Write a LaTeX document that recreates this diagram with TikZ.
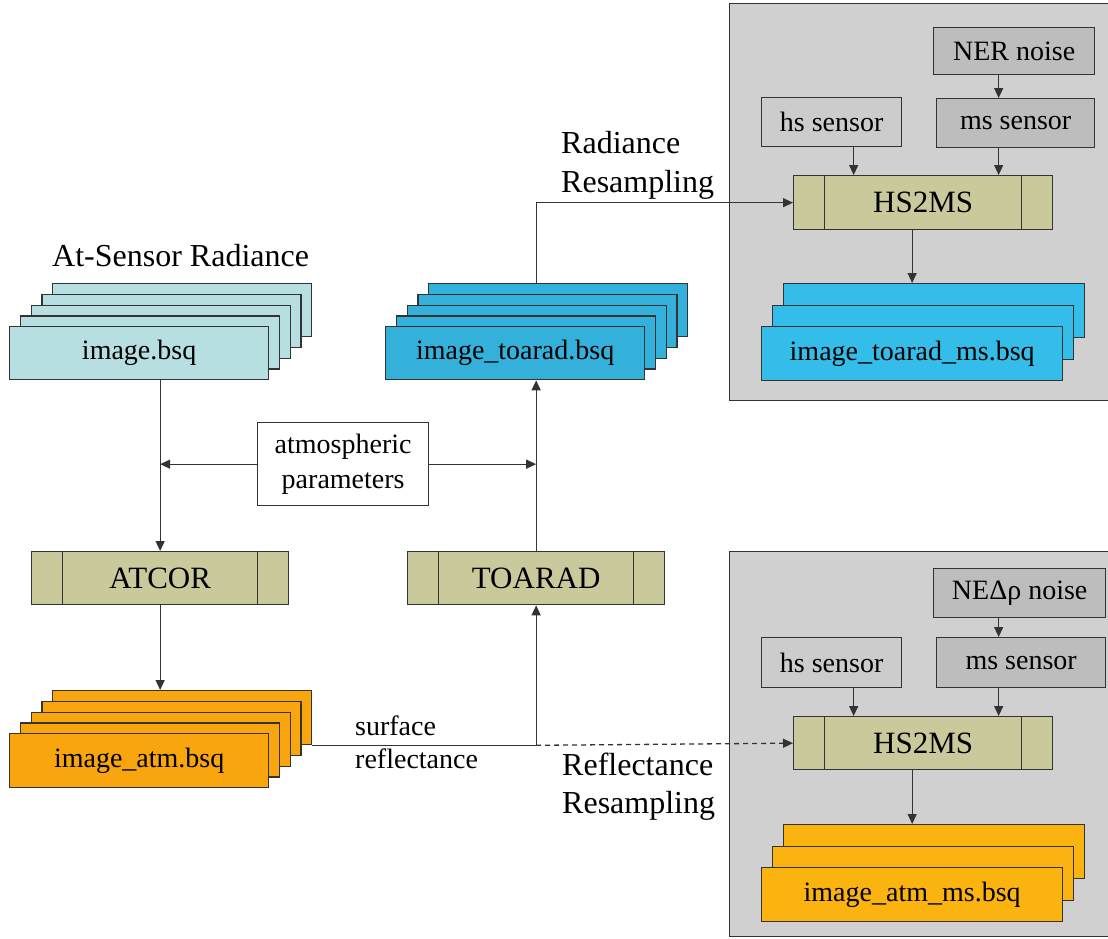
\documentclass[tikz,border=0pt]{standalone}
\usepackage{fontspec}
\setmainfont{Liberation Serif}
\usetikzlibrary{arrows.meta}
\definecolor{edge}{HTML}{333333}
\definecolor{cyanA}{HTML}{B7DFE2}
\definecolor{blueA}{HTML}{33B1DA}
\definecolor{blueB}{HTML}{33BDE8}
\definecolor{orangeA}{HTML}{F8A50E}
\definecolor{orangeB}{HTML}{FBB30F}
\definecolor{procfill}{HTML}{C9C99B}
\definecolor{panelfill}{HTML}{D0D0D0}
\definecolor{lightbox}{HTML}{CCCCCC}
\definecolor{darkbox}{HTML}{BDBDBD}
\tikzset{
  lay/.style={draw=edge, line width=1.3pt, anchor=north west, inner sep=0pt, font=\fontsize{28}{34}\selectfont},
  proc/.style={lay, fill=procfill, font=\fontsize{31}{36}\selectfont,
    path picture={
      \draw[edge, line width=1.3pt] ([xshift=31pt]path picture bounding box.north west) -- ([xshift=31pt]path picture bounding box.south west);
      \draw[edge, line width=1.3pt] ([xshift=-31pt]path picture bounding box.north east) -- ([xshift=-31pt]path picture bounding box.south east);
    }},
  panel/.style={draw=edge, line width=1.3pt, fill=panelfill, anchor=north west, inner sep=0pt},
  lab/.style={anchor=base west, inner sep=0pt, font=\fontsize{32}{38}\selectfont},
  labs/.style={anchor=base west, inner sep=0pt, font=\fontsize{28}{34}\selectfont},
  arr/.style={draw=edge, line width=1.3pt, -{Triangle[length=10pt,width=9pt]}},
  conn/.style={draw=edge, line width=1.3pt}
}
\begin{document}
\begin{tikzpicture}[x=1pt,y=-1pt]
\clip (0,0) rectangle (1108,938);
\fill[white] (0,0) rectangle (1108,938);

% panels
\node[panel, minimum width=400pt, minimum height=397pt] (pTop) at (729,3) {};
\node[panel, minimum width=400pt, minimum height=385pt] (pBot) at (729,551) {};

% left radiance stack
\node[lay, fill=cyanA, minimum width=259pt, minimum height=53pt] (img4) at (52,283) {};
\node[lay, fill=cyanA, minimum width=259pt, minimum height=53pt] (img3) at (41.25,293.75) {};
\node[lay, fill=cyanA, minimum width=259pt, minimum height=53pt] (img2) at (30.5,304.5) {};
\node[lay, fill=cyanA, minimum width=259pt, minimum height=53pt] (img1) at (19.75,315.25) {};
\node[lay, fill=cyanA, minimum width=259pt, minimum height=53pt] (img0) at (9,326) {image.bsq};
\node[lab] (hdr) at (52,266) {At-Sensor Radiance};

% toarad stack
\node[lay, fill=blueA, minimum width=259pt, minimum height=53pt] (toar4) at (428,283) {};
\node[lay, fill=blueA, minimum width=259pt, minimum height=53pt] (toar3) at (417.25,293.75) {};
\node[lay, fill=blueA, minimum width=259pt, minimum height=53pt] (toar2) at (406.5,304.5) {};
\node[lay, fill=blueA, minimum width=259pt, minimum height=53pt] (toar1) at (395.75,315.25) {};
\node[lay, fill=blueA, minimum width=259pt, minimum height=53pt] (toar0) at (385,326) {image\_toarad.bsq};

% atm stack
\node[lay, fill=orangeA, minimum width=259pt, minimum height=54pt] (atm4) at (52,690) {};
\node[lay, fill=orangeA, minimum width=259pt, minimum height=54pt] (atm3) at (41.25,700.75) {};
\node[lay, fill=orangeA, minimum width=259pt, minimum height=54pt] (atm2) at (30.5,711.5) {};
\node[lay, fill=orangeA, minimum width=259pt, minimum height=54pt] (atm1) at (19.75,722.25) {};
\node[lay, fill=orangeA, minimum width=259pt, minimum height=54pt] (atm0) at (9,733) {image\_atm.bsq};

% process boxes
\node[proc, minimum width=257pt, minimum height=53pt] (atcor) at (31,551) {ATCOR};
\node[proc, minimum width=257pt, minimum height=53pt] (toarad) at (407,551) {TOARAD};
\node[proc, minimum width=259pt, minimum height=54pt] (hsA) at (793,175) {HS2MS};
\node[proc, minimum width=259pt, minimum height=53pt] (hsB) at (793,716) {HS2MS};

% atmospheric parameters
\node[lay, fill=white, minimum width=171pt, minimum height=83pt, align=center, font=\fontsize{28}{35}\selectfont] (atmp) at (257,422) {atmospheric\\parameters};

% top panel boxes
\node[lay, fill=darkbox, minimum width=161pt, minimum height=47pt] (ner) at (933,27) {NER noise};
\node[lay, fill=lightbox, minimum width=140pt, minimum height=49pt] (hssA) at (761,97) {hs sensor};
\node[lay, fill=darkbox, minimum width=158pt, minimum height=49pt] (mssA) at (936,98) {ms sensor};
\node[lay, fill=blueB, minimum width=301pt, minimum height=54pt] (msA2) at (782.5,283) {};
\node[lay, fill=blueB, minimum width=301pt, minimum height=54pt] (msA1) at (771.75,304.5) {};
\node[lay, fill=blueB, minimum width=301pt, minimum height=54pt] (msA0) at (761,326) {image\_toarad\_ms.bsq};

% bottom panel boxes
\node[lay, fill=darkbox, minimum width=172pt, minimum height=49pt] (nedr) at (933,568) {NEΔρ noise};
\node[lay, fill=lightbox, minimum width=140pt, minimum height=50pt] (hssB) at (761,637) {hs sensor};
\node[lay, fill=darkbox, minimum width=169pt, minimum height=50pt] (mssB) at (936,637) {ms sensor};
\node[lay, fill=orangeB, minimum width=301pt, minimum height=54pt] (msB2) at (782.5,824) {};
\node[lay, fill=orangeB, minimum width=301pt, minimum height=54pt] (msB1) at (771.75,845.5) {};
\node[lay, fill=orangeB, minimum width=301pt, minimum height=54pt] (msB0) at (761,867) {image\_atm\_ms.bsq};

% labels
\node[lab] (rr1) at (561,153) {Radiance};
\node[lab] (rr2) at (561,192) {Resampling};
\node[lab] (fr1) at (562,775) {Reflectance};
\node[lab] (fr2) at (562,813) {Resampling};
\node[labs] (sr1) at (355,735) {surface};
\node[labs] (sr2) at (355,768) {reflectance};

% connectors
\draw[arr] (atcor.north |- img0.south) -- (atcor.north);
\draw[arr] (atmp.west) -- (atmp.west -| atcor.north);
\draw[arr] (atmp.east) -- (atmp.east -| toarad.north);
\draw[arr] (atcor.south) -- (atcor.south |- atm4.north);
\draw[conn] (atm4.south east) -- (atm4.south east -| toarad.south) coordinate (jn);
\draw[arr] (jn) -- (toarad.south);
\draw[arr, dash pattern=on 5pt off 4pt] (jn) -- (hsB.west);
\draw[arr] (toarad.north) -- (toarad.north |- toar0.south);
\draw[arr] (toarad.north |- toar4.north) |- (hsA.west);

\draw[arr] ([xshift=22pt]hssA.south) -- ([xshift=22pt]hssA.south |- hsA.north);
\draw[arr] ([xshift=-17pt]mssA.south) -- ([xshift=-17pt]mssA.south |- hsA.north);
\draw[arr] ([xshift=-15.5pt]ner.south) -- ([xshift=-15.5pt]ner.south |- mssA.north);
\draw[arr] (hsA.south -| msA0.north) -- (msA0.north |- msA2.north);

\draw[arr] ([xshift=22pt]hssB.south) -- ([xshift=22pt]hssB.south |- hsB.north);
\draw[arr] ([xshift=-22.5pt]mssB.south) -- ([xshift=-22.5pt]mssB.south |- hsB.north);
\draw[arr] ([xshift=-21pt]nedr.south) -- ([xshift=-21pt]nedr.south |- mssB.north);
\draw[arr] (hsB.south -| msB0.north) -- (msB0.north |- msB2.north);
\end{tikzpicture}
\end{document}
